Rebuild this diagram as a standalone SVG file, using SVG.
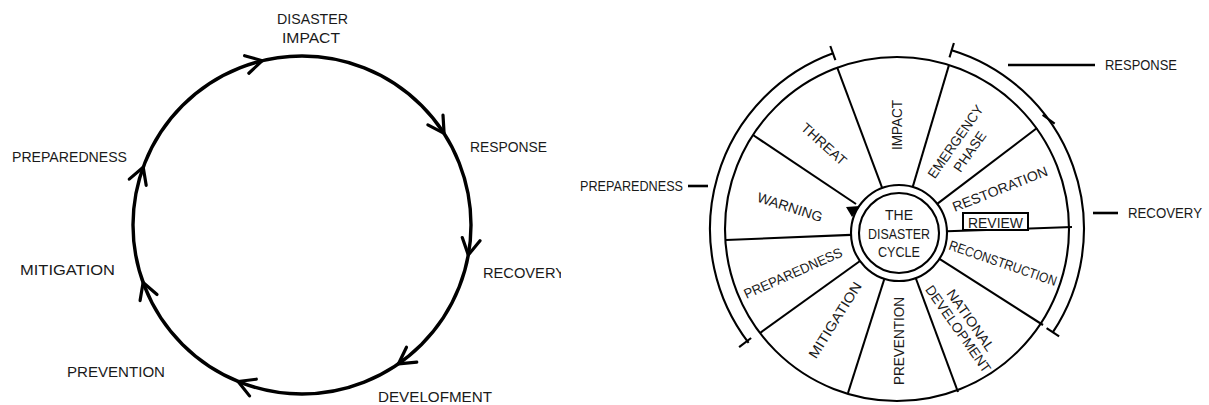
<svg xmlns="http://www.w3.org/2000/svg" width="1209" height="405" viewBox="0 0 1209 405">
<defs>
<style>
.t{font-family:"Liberation Sans",Arial,sans-serif;font-size:15px;fill:#1a1a1a}
.s{font-family:"Liberation Sans",Arial,sans-serif;font-size:13.8px;fill:#1a1a1a}
.ln{fill:none;stroke:#000;stroke-width:2.1}
.thick{fill:none;stroke:#000;stroke-width:3.4;stroke-linecap:round;stroke-linejoin:round}
.chev{fill:none;stroke:#000;stroke-width:3.2;stroke-linecap:round;stroke-linejoin:round}
</style>
<path id="chevron" d="M-16,-9 L0,0 L-16,9"/>
<clipPath id="clipL"><rect x="0" y="0" width="561" height="405"/></clipPath>
</defs>
<rect width="1209" height="405" fill="#fff"/>

<!-- LEFT: simple disaster cycle -->
<g id="left-cycle">
  <g id="cycle-connectors">
    <circle class="thick" cx="302" cy="225" r="169"/>
    <use href="#chevron" class="chev" transform="translate(262.3,60.7) rotate(-13.6)"/>
    <use href="#chevron" class="chev" transform="translate(444.1,133.4) rotate(57.2)"/>
    <use href="#chevron" class="chev" transform="translate(468.3,254.9) rotate(100.2)"/>
    <use href="#chevron" class="chev" transform="translate(398.5,363.8) rotate(145.2)"/>
    <use href="#chevron" class="chev" transform="translate(238.1,381.5) rotate(202.2)"/>
    <use href="#chevron" class="chev" transform="translate(143.1,282.5) rotate(250.1)"/>
    <use href="#chevron" class="chev" transform="translate(143.2,167.2) rotate(290)"/>
  </g>
  <g id="node-disaster-impact">
    <text class="t" x="312.5" y="23.5" text-anchor="middle" textLength="71" lengthAdjust="spacingAndGlyphs">DISASTER</text>
    <text class="t" x="311" y="43" text-anchor="middle" textLength="58" lengthAdjust="spacingAndGlyphs">IMPACT</text>
  </g>
  <g id="node-response"><text class="t" x="470" y="152" textLength="77" lengthAdjust="spacingAndGlyphs">RESPONSE</text></g>
  <g id="node-recovery" clip-path="url(#clipL)"><text class="t" x="483" y="278" textLength="82" lengthAdjust="spacingAndGlyphs">RECOVERY</text></g>
  <g id="node-development"><text class="t" x="378" y="402" textLength="114" lengthAdjust="spacingAndGlyphs">DEVELOFMENT</text></g>
  <g id="node-prevention"><text class="t" x="67" y="377" textLength="98" lengthAdjust="spacingAndGlyphs">PREVENTION</text></g>
  <g id="node-mitigation"><text class="t" x="20" y="275" textLength="95" lengthAdjust="spacingAndGlyphs">MITIGATION</text></g>
  <g id="node-preparedness"><text class="t" x="12" y="162" textLength="115" lengthAdjust="spacingAndGlyphs">PREPAREDNESS</text></g>
</g>

<!-- RIGHT: disaster cycle wheel -->
<g id="wheel">
  <g id="wheel-connectors">
    <circle class="ln" cx="897" cy="229" r="172"/>
    <circle class="ln" cx="899" cy="233" r="48"/>
    <circle class="ln" cx="899" cy="233" r="40"/>
    <line class="ln" x1="753" y1="135" x2="856" y2="204"/>
    <polygon points="860,206 846,207 852,217" fill="#000"/>
    <line class="ln" x1="837" y1="67" x2="882.2" y2="188"/>
    <line class="ln" x1="949" y1="65" x2="912.7" y2="187"/>
    <line class="ln" x1="1037" y1="128" x2="937.2" y2="203.9"/>
    <line class="ln" x1="1072" y1="227" x2="947" y2="231.3"/>
    <line class="ln" x1="1043" y1="325" x2="939.5" y2="258.8"/>
    <line class="ln" x1="958" y1="392" x2="915.7" y2="278"/>
    <line class="ln" x1="848" y1="393" x2="884.4" y2="278.7"/>
    <line class="ln" x1="760" y1="333" x2="860" y2="261"/>
    <line class="ln" x1="726" y1="240" x2="851" y2="234.9"/>
  </g>
  <g id="brackets">
    <path class="ln" d="M748.6,342.8 A187,187 0 0 1 833,53.3"/>
    <line class="ln" x1="751.1" y1="338" x2="739.1" y2="347.1"/>
    <line class="ln" x1="835.4" y1="60.1" x2="830.3" y2="46"/>
    <path class="ln" d="M951.7,50.2 A187,187 0 0 1 1052.9,332.2"/>
    <line class="ln" x1="949.5" y1="57.4" x2="953.9" y2="43"/>
    <line class="ln" x1="1042.6" y1="114.9" x2="1054.7" y2="123.7"/>
    <line class="ln" x1="1046.6" y1="328.1" x2="1059.1" y2="336.4"/>
    <line class="ln" style="stroke-width:2.6" x1="1008" y1="65" x2="1095" y2="65"/>
    <line class="ln" style="stroke-width:2.6" x1="1093" y1="213" x2="1118" y2="213"/>
    <line class="ln" style="stroke-width:2.6" x1="688" y1="186" x2="708" y2="186"/>
  </g>
  <g id="label-preparedness"><text class="s" x="580" y="191" textLength="103" lengthAdjust="spacingAndGlyphs">PREPAREDNESS</text></g>
  <g id="label-response"><text class="s" x="1105" y="70" textLength="72" lengthAdjust="spacingAndGlyphs">RESPONSE</text></g>
  <g id="label-recovery"><text class="s" x="1128" y="218" textLength="74" lengthAdjust="spacingAndGlyphs">RECOVERY</text></g>
  <g id="hub">
    <text class="s" style="font-size:14.5px" x="899" y="220" text-anchor="middle" textLength="28" lengthAdjust="spacingAndGlyphs">THE</text>
    <text class="s" style="font-size:14.5px" x="899" y="238.5" text-anchor="middle" textLength="62" lengthAdjust="spacingAndGlyphs">DISASTER</text>
    <text class="s" style="font-size:14.5px" x="899" y="257" text-anchor="middle" textLength="42" lengthAdjust="spacingAndGlyphs">CYCLE</text>
  </g>
  <g id="seg-threat"><text class="s" transform="translate(824,144) rotate(42)" y="4.9" text-anchor="middle" textLength="56" lengthAdjust="spacingAndGlyphs">THREAT</text></g>
  <g id="seg-impact"><text class="s" transform="translate(897,125) rotate(-90)" y="4.9" text-anchor="middle" textLength="50" lengthAdjust="spacingAndGlyphs">IMPACT</text></g>
  <g id="seg-emergency" transform="translate(962.5,146.5) rotate(-55)">
    <text class="s" y="-3.8" text-anchor="middle" textLength="86" lengthAdjust="spacingAndGlyphs">EMERGENCY</text>
    <text class="s" y="13.6" text-anchor="middle" textLength="46" lengthAdjust="spacingAndGlyphs">PHASE</text>
  </g>
  <g id="seg-restoration"><text class="s" transform="translate(1000,189) rotate(-21.5)" y="4.9" text-anchor="middle" textLength="101" lengthAdjust="spacingAndGlyphs">RESTORATION</text></g>
  <g id="seg-review">
    <rect x="963" y="213" width="65" height="17" fill="#fff" stroke="#000" stroke-width="2"/>
    <text class="s" x="995.5" y="228" text-anchor="middle" textLength="55" lengthAdjust="spacingAndGlyphs">REVIEW</text>
  </g>
  <g id="seg-reconstruction"><text class="s" transform="translate(1003,263) rotate(19)" y="4.9" text-anchor="middle" textLength="113" lengthAdjust="spacingAndGlyphs">RECONSTRUCTION</text></g>
  <g id="seg-national-development" transform="translate(964.5,324.5) rotate(55)">
    <text class="s" y="-2.7" text-anchor="middle" textLength="72" lengthAdjust="spacingAndGlyphs">NATIONAL</text>
    <text class="s" y="12.5" text-anchor="middle" textLength="103" lengthAdjust="spacingAndGlyphs">DEVELOPMENT</text>
  </g>
  <g id="seg-prevention"><text class="s" transform="translate(899,341) rotate(-90)" y="4.9" text-anchor="middle" textLength="88" lengthAdjust="spacingAndGlyphs">PREVENTION</text></g>
  <g id="seg-mitigation"><text class="s" transform="translate(835,320) rotate(-58)" y="4.9" text-anchor="middle" textLength="87" lengthAdjust="spacingAndGlyphs">MITIGATION</text></g>
  <g id="seg-preparedness"><text class="s" transform="translate(793,273) rotate(-24)" y="4.9" text-anchor="middle" textLength="106" lengthAdjust="spacingAndGlyphs">PREPAREDNESS</text></g>
  <g id="seg-warning"><text class="s" transform="translate(790,207) rotate(18)" y="4.9" text-anchor="middle" textLength="68" lengthAdjust="spacingAndGlyphs">WARNING</text></g>
</g>
</svg>
